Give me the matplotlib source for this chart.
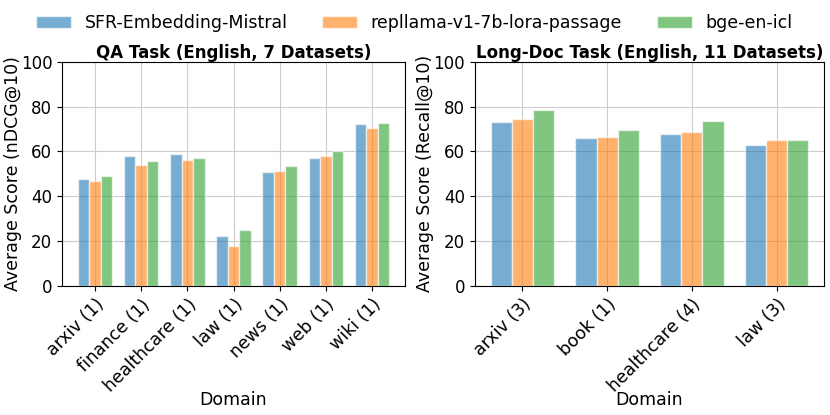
import matplotlib.pyplot as plt
import numpy as np

models = ['SFR-Embedding-Mistral', 'repllama-v1-7b-lora-passage', 'bge-en-icl']
colors = ['tab:blue', 'tab:orange', 'tab:green']

qa_domains = ['arxiv (1)', 'finance (1)', 'healthcare (1)', 'law (1)', 'news (1)', 'web (1)', 'wiki (1)']
qa_sfr = [47.9, 58.1, 58.8, 22.4, 51.0, 57.2, 72.4]
qa_repllama = [47.0, 53.9, 56.1, 17.8, 51.4, 57.8, 70.5]
qa_bge = [49.2, 55.7, 57.2, 25.0, 53.6, 60.3, 72.7]

ld_domains = ['arxiv (3)', 'book (1)', 'healthcare (4)', 'law (3)']
ld_sfr = [73.3, 65.9, 68.0, 62.8]
ld_repllama = [74.4, 66.4, 68.7, 65.3]
ld_bge = [78.7, 69.8, 73.8, 65.0]

fig = plt.figure(figsize=(8.3, 4.15), dpi=100)
ax_qa = fig.add_axes([0.0747, 0.311, 0.4133, 0.540])
ax_ld = fig.add_axes([0.572, 0.311, 0.421, 0.540])

panels = [
    (ax_qa, qa_domains, [qa_sfr, qa_repllama, qa_bge], 'QA Task (English, 7 Datasets)', 'Average Score (nDCG@10)'),
    (ax_ld, ld_domains, [ld_sfr, ld_repllama, ld_bge], 'Long-Doc Task (English, 11 Datasets)', 'Average Score (Recall@10)'),
]

width = 0.25
for ax, domains, series, title, ylabel in panels:
    x = np.arange(len(domains))
    for i, vals in enumerate(series):
        ax.bar(x + (i - 1) * width, vals, width, color=colors[i], alpha=0.6,
               edgecolor='white', linewidth=1, label=models[i], zorder=3)
    ax.set_xticks(x)
    ax.set_xticklabels(domains, rotation=45, ha='right', rotation_mode='anchor', fontsize=12.5)
    ax.set_ylim(0, 100)
    ax.set_yticks([0, 20, 40, 60, 80, 100])
    ax.tick_params(axis='y', labelsize=12)
    ax.set_title(title, fontsize=12, fontweight='bold', pad=3)
    ax.set_xlabel('Domain', fontsize=12.5)
    ax.set_ylabel(ylabel, fontsize=12.5)
    ax.xaxis.set_label_coords(0.5, -0.47)
    ax.yaxis.set_label_coords(-0.118, 0.5)
    ax.grid(True, color='#cccccc', linewidth=0.8, zorder=0)

handles, labels = ax_qa.get_legend_handles_labels()
fig.legend(handles, labels, loc='center', ncol=3, frameon=False, fontsize=12.5,
           bbox_to_anchor=(0.499, 0.945))

plt.savefig('out.png')
